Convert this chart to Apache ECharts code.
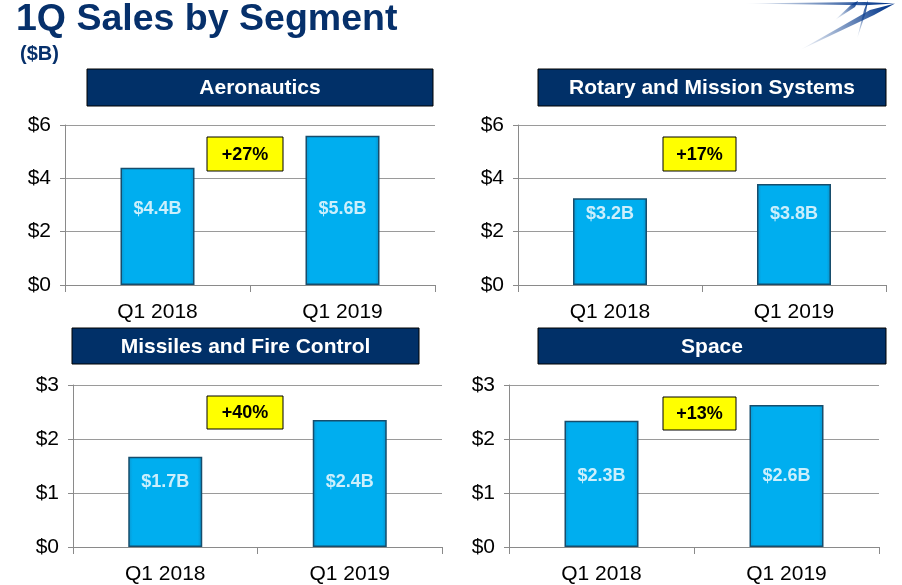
<!DOCTYPE html>
<html>
<head>
<meta charset="utf-8">
<script src="https://cdn.jsdelivr.net/npm/echarts@6/dist/echarts.min.js"></script>
<style>
  html, body { margin: 0; padding: 0; background: #fff; }
  #chart { width: 902px; height: 585px; }
</style>
</head>
<body>
<div id="chart"></div>
<script>
// ---- data ----
const categories = ['Q1 2018', 'Q1 2019'];
const segments = ['Aeronautics', 'Rotary and Mission Systems', 'Missiles and Fire Control', 'Space'];
const aeroSales = [4.40, 5.60];
const rmsSales = [3.25, 3.79];
const mfcSales = [1.67, 2.35];
const spaceSales = [2.34, 2.63];
const aeroLabels = ['$4.4B', '$5.6B'];
const rmsLabels = ['$3.2B', '$3.8B'];
const mfcLabels = ['$1.7B', '$2.4B'];
const spaceLabels = ['$2.3B', '$2.6B'];
const growthLabels = ['+27%', '+17%', '+40%', '+13%'];
const titleText = '1Q Sales by Segment';
const unitText = '($B)';

// ---- layout / style ----
const FONT = '"Liberation Sans", Arial, sans-serif';
const NAVY = '#06306b';
const panels = [
  { sales: aeroSales, labels: aeroLabels, grid: {left: 65, top: 125, width: 370, height: 160}, max: 6, interval: 2, labelAt: 2.85,
    header: [87, 69, 346, 37], box: [207, 137, 76, 34] },
  { sales: rmsSales, labels: rmsLabels, grid: {left: 518, top: 125, width: 368, height: 160}, max: 6, interval: 2, labelAt: 2.66,
    header: [538, 69, 348, 37], box: [663, 137, 73, 34] },
  { sales: mfcSales, labels: mfcLabels, grid: {left: 73, top: 385, width: 369, height: 162}, max: 3, interval: 1, labelAt: 1.2,
    header: [72, 328, 347, 36], box: [207, 396, 76, 33] },
  { sales: spaceSales, labels: spaceLabels, grid: {left: 509, top: 385, width: 370, height: 164}, max: 3, interval: 1, labelAt: 1.32,
    header: [538, 328, 348, 36], box: [663, 397, 73, 33] }
];

const grids = [], xAxes = [], yAxes = [], series = [], graphics = [];

panels.forEach((p, i) => {
  grids.push(Object.assign({ containLabel: false }, p.grid));
  xAxes.push({
    type: 'category', gridIndex: i, data: categories,
    axisLine: { lineStyle: { color: '#8a8a8a', width: 1 } },
    axisTick: { show: true, length: 7, lineStyle: { color: '#8a8a8a' } },
    axisLabel: { fontSize: 21, color: '#000', margin: 17, fontFamily: FONT }
  });
  yAxes.push({
    type: 'value', gridIndex: i, min: 0, max: p.max, interval: p.interval,
    axisLine: { show: true, lineStyle: { color: '#8a8a8a', width: 1 } },
    axisTick: { show: true, length: 5, lineStyle: { color: '#8a8a8a' } },
    splitLine: { show: true, lineStyle: { color: '#9a9a9a', width: 1 } },
    axisLabel: { fontSize: 21, color: '#000', margin: 14, fontFamily: FONT, formatter: v => '$' + v }
  });
  series.push({
    type: 'bar', xAxisIndex: i, yAxisIndex: i, data: p.sales, barWidth: 74,
    itemStyle: {
      color: {
        type: 'linear', x: 0, y: 0, x2: 1, y2: 0,
        colorStops: [
          { offset: 0, color: '#0a96cf' }, { offset: 0.06, color: '#00aeef' },
          { offset: 0.94, color: '#00aeef' }, { offset: 1, color: '#0a90c8' }
        ]
      },
      borderColor: '#174d6c', borderWidth: 1.5
    },
    silent: true
  });
  series.push({
    type: 'scatter', xAxisIndex: i, yAxisIndex: i,
    data: categories.map((c, k) => [k, p.labelAt]),
    symbolSize: 1, itemStyle: { color: 'rgba(0,0,0,0)' }, z: 5, silent: true,
    label: {
      show: true, position: 'inside', formatter: q => p.labels[q.dataIndex],
      color: '#fff', fontWeight: 'bold', fontSize: 18, fontFamily: FONT
    }
  });
  const h = p.header;
  graphics.push({ type: 'rect', shape: { x: h[0], y: h[1], width: h[2], height: h[3] },
    style: { fill: '#013068', stroke: '#000', lineWidth: 1 }, z: 10 });
  graphics.push({ type: 'text', x: h[0] + h[2] / 2, y: h[1] + h[3] / 2 + 1, z: 11,
    style: { text: segments[i], fill: '#fff', font: 'bold 21px ' + FONT, align: 'center', verticalAlign: 'middle' } });
  const b = p.box;
  graphics.push({ type: 'rect', shape: { x: b[0], y: b[1], width: b[2], height: b[3] },
    style: { fill: '#ffff00', stroke: '#000', lineWidth: 1 }, z: 10 });
  graphics.push({ type: 'text', x: b[0] + b[2] / 2, y: b[1] + b[3] / 2 + 1, z: 11,
    style: { text: growthLabels[i], fill: '#000', font: 'bold 18px ' + FONT, align: 'center', verticalAlign: 'middle' } });
});

// title
graphics.push({ type: 'text', x: 16, y: 20, z: 11,
  style: { text: titleText, fill: NAVY, font: 'bold 37.5px ' + FONT, align: 'left', verticalAlign: 'middle' } });
graphics.push({ type: 'text', x: 20, y: 54, z: 11,
  style: { text: unitText, fill: NAVY, font: 'bold 20px ' + FONT, align: 'left', verticalAlign: 'middle' } });

// logo (stylized star streaks)
function streak(points, x1, y1, x2, y2) {
  return { type: 'polygon', z: 11, shape: { points: points },
    style: { fill: { type: 'linear', x: x1, y: y1, x2: x2, y2: y2, global: true,
      colorStops: [{ offset: 0, color: 'rgba(10,60,140,0)' }, { offset: 1, color: '#0a3d8f' }] } } };
}
graphics.push(streak([[743, 3.5], [865, 2], [895, 3.5], [865, 5.2]], 743, 3, 880, 3));
graphics.push(streak([[800, 50], [870, 10], [895, 3.5], [874, 15]], 800, 50, 885, 8));
graphics.push(streak([[835, 20], [852, 4], [858, 1], [855, 7]], 835, 20, 858, 2));
graphics.push(streak([[857, 39], [864, 10], [868, 0], [866, 12]], 857, 39, 867, 2));

const chart = echarts.init(document.getElementById('chart'), null, { renderer: 'canvas' });
chart.setOption({
  animation: false,
  backgroundColor: '#fff',
  grid: grids, xAxis: xAxes, yAxis: yAxes, series: series, graphic: graphics
});
</script>
</body>
</html>
